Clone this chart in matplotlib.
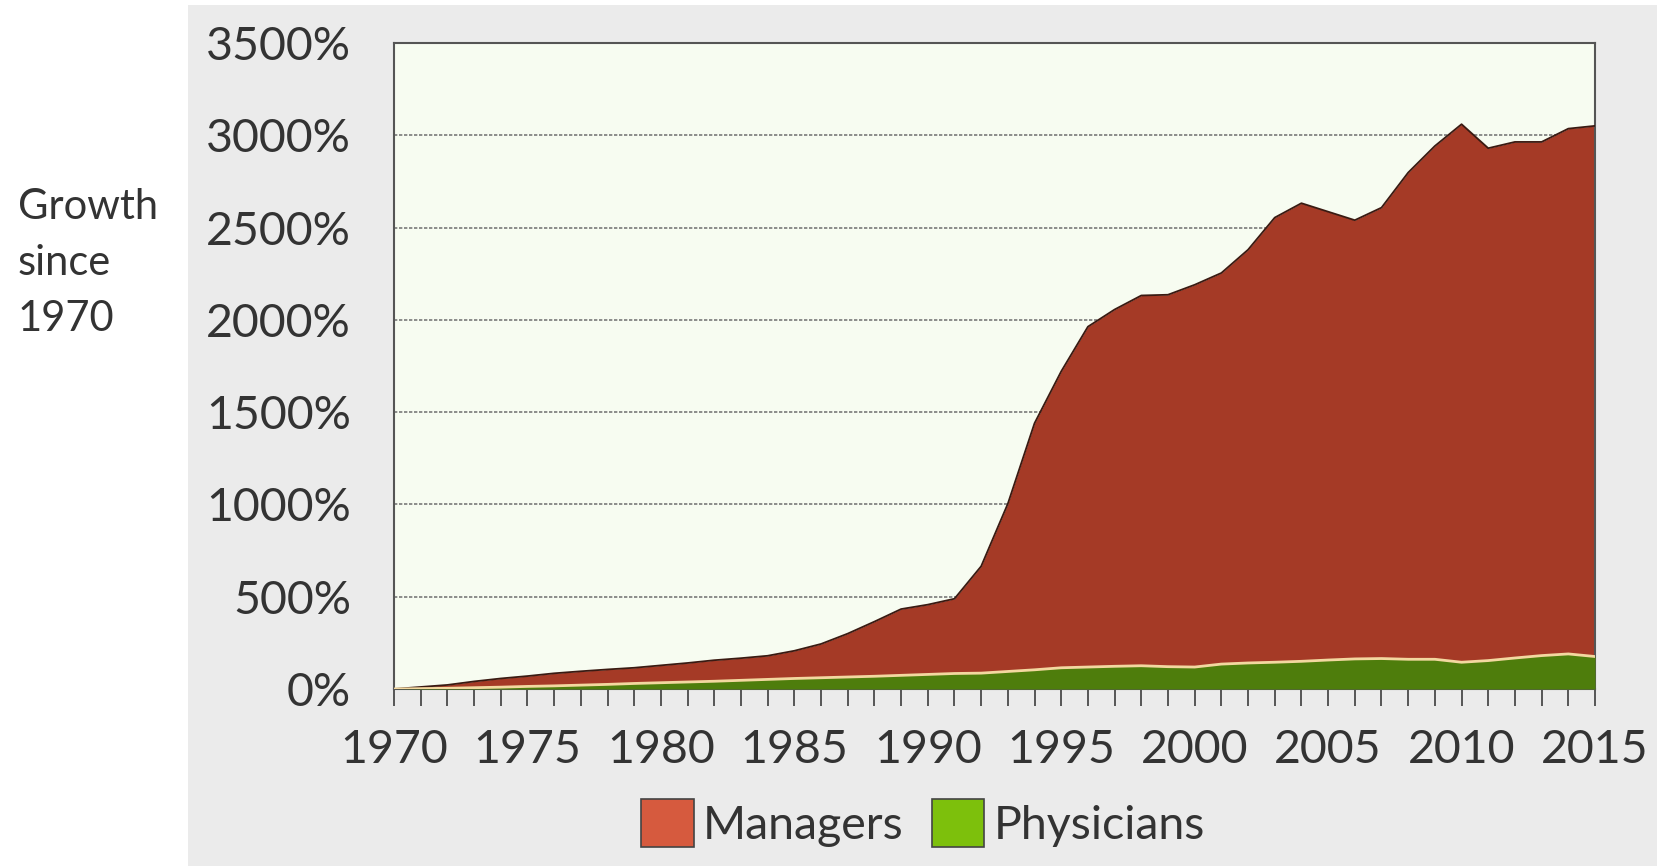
import matplotlib.pyplot as plt
import matplotlib.patches as mpatches
from matplotlib.ticker import MultipleLocator, FuncFormatter

plt.rcParams["font.family"] = ["Lato", "DejaVu Sans"]

years = list(range(1970, 2016))
managers = [0, 11, 22, 41, 57, 70, 85, 96, 106, 115,
            128, 141, 156, 167, 180, 207, 244, 300, 365, 433,
            457, 489, 665, 1004, 1440, 1721, 1963, 2056, 2132, 2136,
            2190, 2254, 2380, 2554, 2632, 2586, 2540, 2608, 2798, 2942,
            3060, 2930, 2964, 2964, 3036, 3051]
physicians = [0, 2, 4, 7, 10, 14, 17, 21, 25, 30,
              34, 38, 42, 47, 52, 57, 61, 65, 69, 74,
              79, 84, 86, 95, 104, 115, 119, 123, 126, 121,
              119, 135, 141, 145, 150, 157, 163, 165, 161, 161,
              145, 154, 168, 181, 190, 176]
series_names = ["Managers", "Physicians"]

TXT = "#333333"
W, H = 1658, 866

fig = plt.figure(figsize=(W / 100, H / 100), dpi=100)
fig.patch.set_facecolor("white")
# grey panel behind the chart
fig.add_artist(mpatches.Rectangle((188 / W, 0), 1 - 188 / W, 1 - 5 / H,
                                  transform=fig.transFigure, facecolor="#ebebeb",
                                  edgecolor="none", zorder=-10))

ax = fig.add_axes([394 / W, 1 - 689 / H, 1201 / W, 646 / H])
ax.set_facecolor("#f7fcf1")

ax.fill_between(years, 0, managers, color="#a53a26", lw=0, zorder=2)
ax.plot(years, managers, color="#3a1a12", lw=1.3, zorder=3)
ax.fill_between(years, 0, physicians, color="#4e7d0c", lw=0, zorder=4)
ax.plot(years, physicians, color="#f3d8a0", lw=2, zorder=5)

ax.set_xlim(1970, 2015)
ax.set_ylim(0, 3500)
ax.yaxis.set_major_locator(MultipleLocator(500))
ax.yaxis.set_major_formatter(FuncFormatter(lambda v, _: f"{v:.0f}%"))
ax.xaxis.set_major_locator(MultipleLocator(5))
ax.xaxis.set_minor_locator(MultipleLocator(1))
ax.grid(axis="y", color="#7a7a7a", ls=(0, (2, 1)), lw=1.2, zorder=1)
ax.set_axisbelow(True)

ax.tick_params(axis="y", length=0, pad=31, labelsize=33.5, labelcolor=TXT)
ax.tick_params(axis="x", which="both", direction="out", length=12, width=1.4,
               color="#555555", pad=17, labelsize=33.5, labelcolor=TXT)
for s in ax.spines.values():
    s.set_color("#555555")
    s.set_linewidth(1.5)

fig.text(18 / W, 1 - 263 / H, "Growth\nsince\n1970", ha="left", va="center",
         fontsize=30, color=TXT, linespacing=1.58)

handles = [mpatches.Patch(facecolor="#d65a3e", edgecolor="#444444", lw=1.2),
           mpatches.Patch(facecolor="#7dc00c", edgecolor="#444444", lw=1.2)]
leg = fig.legend(handles, series_names, loc="center", ncol=2,
                 bbox_to_anchor=(923 / W, 1 - 823 / H), frameon=False,
                 fontsize=33.5, handlelength=1.13, handleheight=1.2,
                 handletextpad=0.2, columnspacing=0.6, borderaxespad=0)
for t in leg.get_texts():
    t.set_color(TXT)

fig.savefig("out.png", dpi=100)
